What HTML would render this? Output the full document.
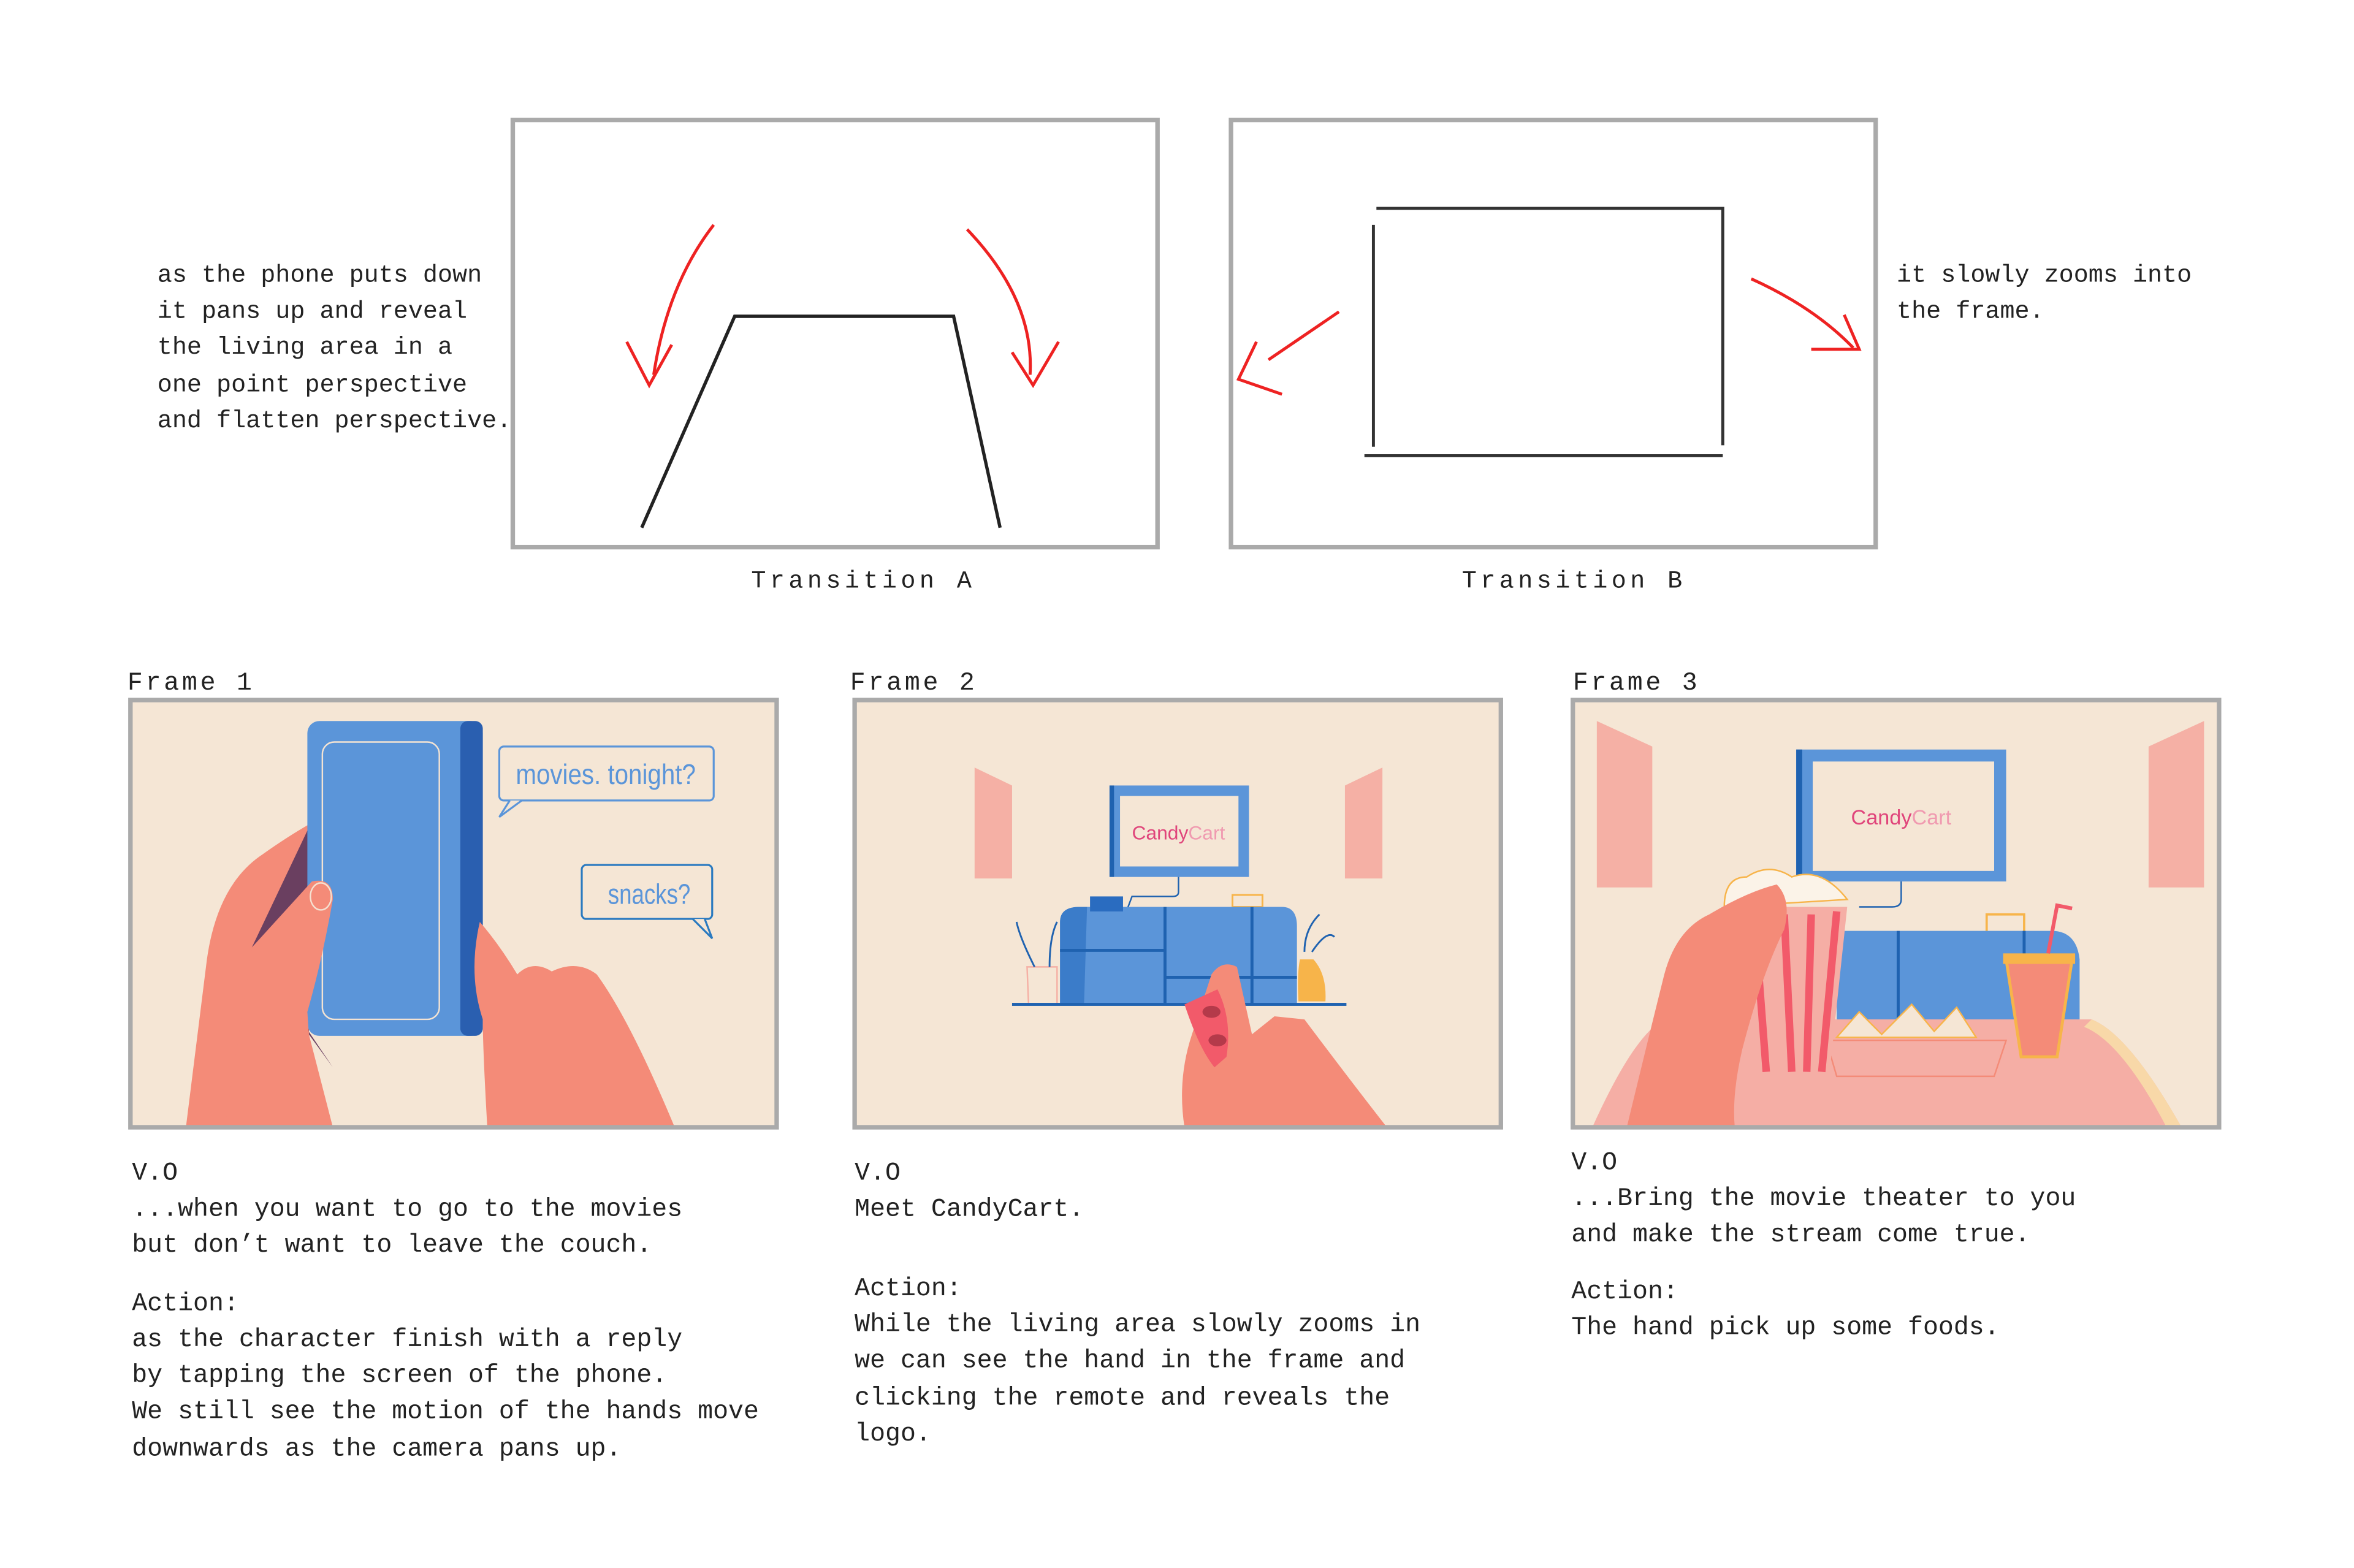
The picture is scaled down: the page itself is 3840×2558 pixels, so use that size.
<!DOCTYPE html>
<html><head><meta charset="utf-8"><style>
html,body{margin:0;padding:0;background:#fff;}
svg{display:block;}
text{font-family:"Liberation Mono",monospace;fill:#222;}
</style></head><body>
<svg width="3840" height="2558" viewBox="0 0 1570 1046" preserveAspectRatio="none" xmlns="http://www.w3.org/2000/svg">
<rect width="1570" height="1046" fill="#fff"/>

<rect x="342" y="80" width="430" height="285" fill="#fff" stroke="#aaa" stroke-width="3"/>
<rect x="821" y="80" width="430" height="285" fill="#fff" stroke="#aaa" stroke-width="3"/>
<path d="M428 352 L490 211 L636 211 L667 352" fill="none" stroke="#222" stroke-width="2.2"/>
<path d="M476 150 Q445 190 436 250" fill="none" stroke="#e22" stroke-width="2"/>
<path d="M418 228 L433 257 L448 230" fill="none" stroke="#e22" stroke-width="2"/>
<path d="M645 153 Q690 200 687 250" fill="none" stroke="#e22" stroke-width="2"/>
<path d="M675 235 L689 257 L706 228" fill="none" stroke="#e22" stroke-width="2"/>
<path d="M918 139 L1149 139 L1149 297 M916 150 L916 298 M910 304 L1149 304" fill="none" stroke="#333" stroke-width="2"/>
<path d="M893 208 L846 240" fill="none" stroke="#e22" stroke-width="2"/>
<path d="M838 228 L826 253 L855 263" fill="none" stroke="#e22" stroke-width="2"/>
<path d="M1168 186 Q1210 205 1236 232" fill="none" stroke="#e22" stroke-width="2"/>
<path d="M1230 210 L1240 233 L1208 233" fill="none" stroke="#e22" stroke-width="2"/>

<g font-size="16.4">
<text x="105" y="188">as the phone puts down</text>
<text x="105" y="212">it pans up and reveal</text>
<text x="105" y="236">the living area in a</text>
<text x="105" y="261">one point perspective</text>
<text x="105" y="285">and flatten perspective.</text>
<text x="1265" y="188">it slowly zooms into</text>
<text x="1265" y="212">the frame.</text>
<text x="501" y="392" textLength="147">Transition A</text>
<text x="975" y="392" textLength="147">Transition B</text>
</g>
<g font-size="17">
<text x="85" y="460" textLength="83">Frame 1</text>
<text x="567" y="460" textLength="83">Frame 2</text>
<text x="1049" y="460" textLength="83">Frame 3</text>

<text x="88" y="787">V.O</text>
<text x="88" y="811">...when you want to go to the movies</text>
<text x="88" y="835">but don’t want to leave the couch.</text>
<text x="88" y="874">Action:</text>
<text x="88" y="898">as the character finish with a reply</text>
<text x="88" y="922">by tapping the screen of the phone.</text>
<text x="88" y="946">We still see the motion of the hands move</text>
<text x="88" y="971">downwards as the camera pans up.</text>

<text x="570" y="787">V.O</text>
<text x="570" y="811">Meet CandyCart.</text>
<text x="570" y="864">Action:</text>
<text x="570" y="888">While the living area slowly zooms in</text>
<text x="570" y="912">we can see the hand in the frame and</text>
<text x="570" y="937">clicking the remote and reveals the</text>
<text x="570" y="961">logo.</text>

<text x="1048" y="780">V.O</text>
<text x="1048" y="804">...Bring the movie theater to you</text>
<text x="1048" y="828">and make the stream come true.</text>
<text x="1048" y="866">Action:</text>
<text x="1048" y="890">The hand pick up some foods.</text>
</g>

<!-- Frame 1 -->
<rect x="87" y="467" width="431" height="285" fill="#f5e6d5"/>
<path d="M124 752 L138 640 Q145 590 175 570 Q192 558 206 550 L206 690 L222 752 Z" fill="#f48b78"/>
<path d="M168 632 L206 552 L206 690 L222 712 Z" fill="#6a3f60"/>
<rect x="205" y="481" width="117" height="210" rx="8" fill="#5b95d9"/>
<rect x="307" y="481" width="15" height="210" rx="5" fill="#2a5fb0"/>
<rect x="215" y="495" width="78" height="185" rx="8" fill="none" stroke="#f3e3d3" stroke-width="1"/>
<path d="M168 632 L208 588 Q222 585 222 600 Q215 640 205 675 L210 752 L150 752 Z" fill="#f48b78"/>
<ellipse cx="214" cy="598" rx="7" ry="9" fill="#f48b78" stroke="#f5e0d0" stroke-width="1"/>
<path d="M320 615 Q312 650 322 680 Q322 700 325 752 L450 752 Q420 680 398 650 Q385 640 368 648 Q355 640 345 650 Q333 630 320 615 Z" fill="#f48b78"/>
<rect x="333" y="498" width="143" height="36" rx="3" fill="none" stroke="#5b95d9" stroke-width="1.3"/>
<path d="M340 534 L333 545 L348 534" fill="#f5e6d5" stroke="#5b95d9" stroke-width="1.3"/>
<text x="404" y="523" text-anchor="middle" font-size="19" style="fill:#5b95d9;font-family:'Liberation Sans',sans-serif" textLength="120" lengthAdjust="spacingAndGlyphs">movies. tonight?</text>
<rect x="388" y="577" width="87" height="36" rx="3" fill="none" stroke="#2a7ac0" stroke-width="1.3"/>
<path d="M462 613 L475 626 L470 613" fill="#f5e6d5" stroke="#2a7ac0" stroke-width="1.3"/>
<text x="433" y="603" text-anchor="middle" font-size="19" style="fill:#5b95d9;font-family:'Liberation Sans',sans-serif" textLength="55" lengthAdjust="spacingAndGlyphs">snacks?</text>
<rect x="87" y="467" width="431" height="285" fill="none" stroke="#aaa" stroke-width="3"/>

<!-- Frame 2 -->
<rect x="570" y="467" width="431" height="285" fill="#f5e6d5"/>
<path d="M650 512 L675 524 L675 586 L650 586 Z" fill="#f5b0a5"/>
<path d="M897 524 L922 512 L922 586 L897 586 Z" fill="#f5b0a5"/>
<rect x="740" y="524" width="93" height="61" fill="#5b95d9"/>
<rect x="740" y="524" width="3" height="61" fill="#1f62b0"/>
<rect x="747" y="531" width="79" height="47" fill="#f5e6d5"/>
<text x="786" y="560" text-anchor="middle" font-size="13" style="fill:#e0457b;font-family:'Liberation Sans',sans-serif">Candy<tspan style="fill:#f09ab0">Cart</tspan></text>
<path d="M786 585 L786 595 Q786 598 782 598 L755 598 L752 606" fill="none" stroke="#1f62b0" stroke-width="1"/>
<rect x="822" y="597" width="20" height="8" fill="none" stroke="#f7b44a" stroke-width="1.2"/>
<path d="M707 615 Q707 605 720 605 L855 605 Q865 605 865 618 L865 670 L707 670 Z" fill="#5b95d9"/>
<path d="M707 615 Q707 605 720 605 L725 605 L723 670 L707 670 Z" fill="#3b7cc9"/>
<path d="M777 605 L777 670 M835 605 L835 670 M707 634 L777 634 M777 652 L865 652" stroke="#1f62b0" stroke-width="2"/>
<rect x="727" y="598" width="22" height="10" fill="#2a6cc0"/>
<path d="M867 640 Q865 650 866 668 L884 668 Q885 650 876 640 Z" fill="#f7b44a"/>
<path d="M685 645 L705 645 L705 670 L686 670 Z" fill="#f5e6d5" stroke="#f5b0a5" stroke-width="1"/>
<path d="M690 645 Q680 625 678 615 M700 645 Q700 625 705 615 M870 635 Q870 620 880 610 M875 635 Q885 620 890 625" stroke="#1f62b0" stroke-width="1.2" fill="none"/>
<rect x="675" y="669" width="223" height="2" fill="#1f62b0"/>
<path d="M790 752 Q785 720 795 690 L808 650 Q815 640 825 645 L835 690 L850 678 L870 680 Q900 720 925 752 Z" fill="#f48b78"/>
<path d="M790 670 L812 660 Q822 680 818 705 L810 712 Q800 700 790 670 Z" fill="#f25a6a"/>
<ellipse cx="808" cy="675" rx="6" ry="4" fill="#b43a4a"/><ellipse cx="812" cy="694" rx="6" ry="4" fill="#b43a4a"/>
<rect x="570" y="467" width="431" height="285" fill="none" stroke="#aaa" stroke-width="3"/>

<!-- Frame 3 -->
<rect x="1049" y="467" width="431" height="285" fill="#f5e6d5"/>
<path d="M1065 481 L1102 498 L1102 592 L1065 592 Z" fill="#f5b0a5"/>
<path d="M1433 498 L1470 481 L1470 592 L1433 592 Z" fill="#f5b0a5"/>
<rect x="1198" y="500" width="140" height="88" fill="#5b95d9"/>
<rect x="1198" y="500" width="4" height="88" fill="#1f62b0"/>
<rect x="1209" y="508" width="121" height="73" fill="#f5e6d5"/>
<text x="1268" y="550" text-anchor="middle" font-size="14" style="fill:#e0457b;font-family:'Liberation Sans',sans-serif">Candy<tspan style="fill:#f09ab0">Cart</tspan></text>
<path d="M1268 588 L1268 600 Q1268 605 1262 605 L1240 605" fill="none" stroke="#1f62b0" stroke-width="1"/>
<rect x="1325" y="610" width="25" height="12" fill="none" stroke="#f7b44a" stroke-width="1.5"/>
<path d="M1225 621 L1370 621 Q1385 622 1387 640 L1387 680 L1225 680 Z" fill="#5b95d9"/>
<path d="M1266 621 L1266 680 M1350 621 L1350 680" stroke="#1f62b0" stroke-width="2"/>
<path d="M1062 752 Q1090 690 1110 680 L1395 680 Q1420 690 1455 752 Z" fill="#f5aea5"/>
<path d="M1395 680 Q1420 690 1455 752 L1445 752 Q1415 695 1390 685 Z" fill="#f8d8a8"/>
<path d="M1218 694 L1338 694 L1330 718 L1225 718 Z" fill="#f5aea5" stroke="#f48b78" stroke-width="1"/>
<path d="M1225 692 L1240 675 L1255 690 L1275 670 L1290 688 L1305 672 L1318 692 Z" fill="#f5e6d5" stroke="#f7b44a" stroke-width="1"/>
<path d="M1338 640 L1382 640 L1372 705 L1348 705 Z" fill="#f48b78" stroke="#f7b44a" stroke-width="2"/>
<rect x="1336" y="636" width="48" height="7" fill="#f7b44a"/>
<path d="M1366 636 L1372 604 L1382 606" stroke="#f25a6a" stroke-width="2.5" fill="none"/>
<path d="M1155 605 L1232 605 L1220 718 L1165 718 Z" fill="#f5aea5"/>
<path d="M1170 610 L1178 715 M1190 610 L1195 715 M1208 610 L1205 715 M1225 608 L1215 715" stroke="#f25a6a" stroke-width="5"/>
<path d="M1150 605 Q1150 585 1165 585 Q1180 575 1195 585 Q1215 578 1232 600 Z" fill="#fbf3e8" stroke="#f7b44a" stroke-width="1"/>
<path d="M1085 752 Q1100 690 1110 650 Q1118 620 1140 610 Q1165 595 1185 590 Q1195 600 1190 620 Q1175 650 1162 700 Q1155 730 1157 752 Z" fill="#f48b78"/>
<rect x="1049" y="467" width="431" height="285" fill="none" stroke="#aaa" stroke-width="3"/>
</svg>
</body></html>
